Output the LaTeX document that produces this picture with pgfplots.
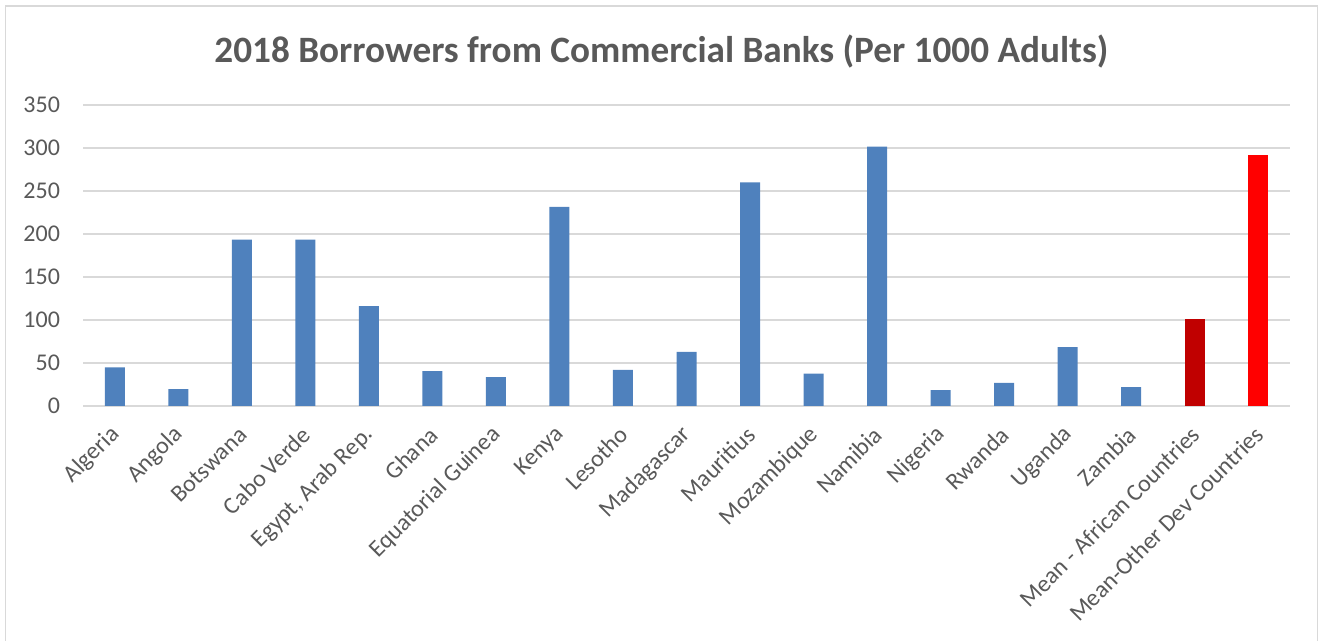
\documentclass[border=0pt]{standalone}
\usepackage{pgfplots}
\pgfplotsset{compat=1.18}
\usepackage{fontspec}
\setmainfont{Carlito}
\definecolor{barblue}{HTML}{4F81BD}
\definecolor{darkred}{HTML}{C00000}
\definecolor{brightred}{HTML}{FF0000}
\definecolor{textgray}{HTML}{595959}
\definecolor{gridgray}{HTML}{D9D9D9}
\begin{document}
\begin{tikzpicture}
\useasboundingbox (0,0) rectangle (660.5pt,320.5pt);
\draw[color=gridgray, line width=0.75pt] (2.75pt,-10pt) rectangle (658.75pt,317.5pt);
\node[anchor=base, font=\fontsize{18.6}{22}\selectfont\bfseries, text=textgray, inner sep=0pt] at (330.75pt,289.2pt) {2018 Borrowers from Commercial Banks (Per 1000 Adults)};
\begin{axis}[
  at={(41.5pt,117.5pt)}, anchor=south west,
  scale only axis, width=603.5pt, height=150.5pt,
  ymin=0, ymax=350, xmin=-0.5, xmax=18.5,
  ytick={0,50,...,350},
  xtick={0,...,18},
  xticklabels={Algeria,Angola,Botswana,Cabo Verde,{Egypt, Arab Rep.},Ghana,Equatorial Guinea,Kenya,Lesotho,Madagascar,Mauritius,Mozambique,Namibia,Nigeria,Rwanda,Uganda,Zambia,Mean - African Countries,Mean-Other Dev Countries},
  axis line style={draw=none},
  major tick length=0pt,
  ymajorgrids, grid style={gridgray, line width=0.8pt},
  tick label style={font=\fontsize{12}{14}\selectfont, text=textgray},
  /pgf/number format/assume math mode=true,
  yticklabel style={anchor=east, xshift=-8pt},
  xticklabel style={rotate=45, anchor=east, xshift=-5pt, yshift=-9.2pt},
  ybar, bar width=10pt, bar shift=0pt,
  clip=false,
]
\addplot[fill=barblue, draw=none] coordinates {
(0,45) (1,19.5) (2,193.5) (3,193.5) (4,116) (5,40.5) (6,33.5) (7,231.5) (8,42) (9,63) (10,260) (11,37.5) (12,301.5) (13,18.5) (14,27) (15,68.5) (16,22)
};
\addplot[fill=darkred, draw=none] coordinates {(17,101)};
\addplot[fill=brightred, draw=none] coordinates {(18,292)};
\end{axis}
\end{tikzpicture}
\end{document}
